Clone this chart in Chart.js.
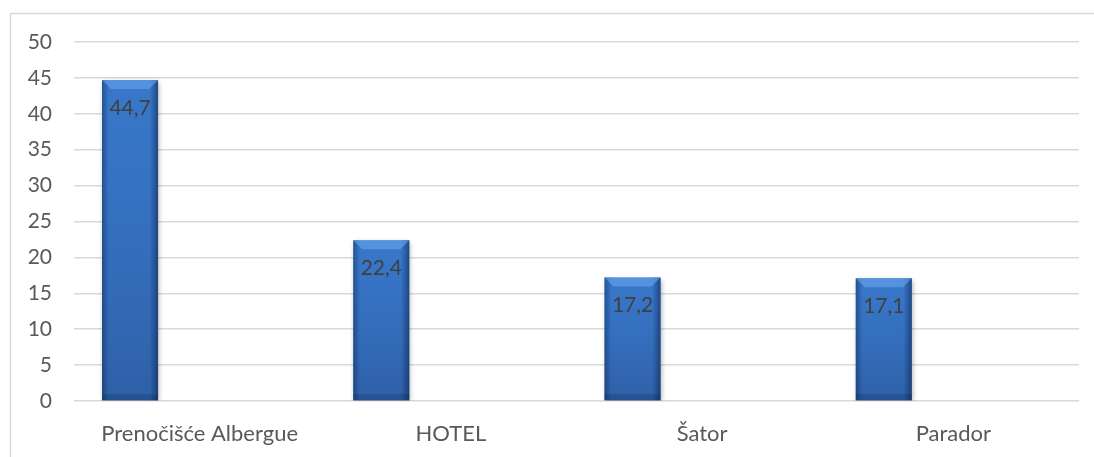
<!DOCTYPE html>
<html>
<head>
<meta charset="utf-8">
<script src="https://cdn.jsdelivr.net/npm/chart.js@4.4.1/dist/chart.umd.min.js"></script>
<style>
  html, body { margin: 0; padding: 0; background: #fff; }
  #wrap { width: 1094px; height: 457px; position: relative; }
</style>
</head>
<body>
<div id="wrap"><canvas id="c"></canvas></div>
<script>
const categories = ['Prenočišće Albergue', 'HOTEL', 'Šator', 'Parador'];
const values = [44.7, 22.4, 17.2, 17.1];
const emptySeries = [null, null, null, null];
const yTicks = { min: 0, max: 50, step: 5 };

const FONT = 'Lato, "Liberation Sans", sans-serif';
const GRID = '#d9d9d9';

// chart frame: top and left edge only, the rest falls outside the picture
const framePlugin = {
  id: 'frame',
  beforeDraw(chart) {
    const ctx = chart.ctx;
    ctx.save();
    ctx.strokeStyle = GRID;
    ctx.lineWidth = 1.5;
    ctx.beginPath();
    ctx.moveTo(10.5, 457);
    ctx.lineTo(10.5, 13.5);
    ctx.lineTo(1094, 13.5);
    ctx.stroke();
    ctx.restore();
  }
};

// soft shadow under the bars
const shadowPlugin = {
  id: 'barShadow',
  beforeDatasetDraw(chart, args) {
    if (args.index !== 0) return;
    const ctx = chart.ctx;
    ctx.save();
    ctx.shadowColor = 'rgba(0,0,0,0.35)';
    ctx.shadowBlur = 5;
    ctx.shadowOffsetX = 1;
    ctx.shadowOffsetY = 2;
  },
  afterDatasetDraw(chart, args) {
    if (args.index !== 0) return;
    chart.ctx.restore();
  }
};

// bevel look + value labels on top of the bars
const bevelPlugin = {
  id: 'bevel',
  afterDatasetsDraw(chart) {
    const ctx = chart.ctx;
    const meta = chart.getDatasetMeta(0);
    meta.data.forEach((bar, i) => {
      const { x, y, base, width } = bar.getProps(['x', 'y', 'base', 'width'], true);
      const l = x - width / 2, r = x + width / 2, h = base - y;
      ctx.save();
      // vertical shading
      let g = ctx.createLinearGradient(0, y, 0, base);
      g.addColorStop(0, 'rgba(40,120,230,0.10)');
      g.addColorStop(1, 'rgba(0,0,40,0.20)');
      ctx.fillStyle = g;
      ctx.fillRect(l, y, width, h);
      // darker side edges
      g = ctx.createLinearGradient(l, 0, r, 0);
      g.addColorStop(0, 'rgba(10,30,70,0.45)');
      g.addColorStop(0.12, 'rgba(10,30,70,0.04)');
      g.addColorStop(0.85, 'rgba(10,30,70,0.04)');
      g.addColorStop(1, 'rgba(10,30,70,0.55)');
      ctx.fillStyle = g;
      ctx.fillRect(l, y, width, h);
      // top bevel
      const bv = 9;
      ctx.fillStyle = 'rgba(110,170,240,0.55)';
      ctx.beginPath();
      ctx.moveTo(l, y);
      ctx.lineTo(r, y);
      ctx.lineTo(r - bv, y + bv);
      ctx.lineTo(l + bv, y + bv);
      ctx.closePath();
      ctx.fill();
      // bottom band
      ctx.fillStyle = 'rgba(10,30,70,0.22)';
      ctx.fillRect(l, base - 6, width, 6);
      // label
      ctx.fillStyle = '#404040';
      ctx.font = '21px ' + FONT;
      ctx.textAlign = 'center';
      ctx.textBaseline = 'middle';
      ctx.fillText(String(values[i]).replace('.', ','), x, y + 28);
      ctx.restore();
    });
  }
};

new Chart(document.getElementById('c'), {
  type: 'bar',
  data: {
    labels: categories,
    datasets: [
      { data: values, backgroundColor: '#3c7bcc', borderWidth: 0 },
      { data: emptySeries },
      { data: emptySeries }
    ]
  },
  options: {
    responsive: true,
    maintainAspectRatio: false,
    animation: false,
    devicePixelRatio: 1,
    categoryPercentage: 0.831,
    barPercentage: 0.805,
    layout: { padding: { top: 42, right: 15, bottom: 0, left: 0 } },
    plugins: { legend: { display: false }, tooltip: { enabled: false } },
    scales: {
      x: {
        grid: { display: false },
        border: { display: false },
        ticks: { color: '#595959', font: { family: FONT, size: 22 }, padding: 12, maxRotation: 0 },
        afterFit(s) { s.height = 56; }
      },
      y: {
        min: yTicks.min,
        max: yTicks.max,
        ticks: { stepSize: yTicks.step, color: '#595959', font: { family: FONT, size: 21 }, padding: 22 },
        grid: { color: GRID, lineWidth: 1.5, drawTicks: false },
        border: { display: false },
        afterFit(s) { s.width = 74; }
      }
    }
  },
  plugins: [framePlugin, shadowPlugin, bevelPlugin]
});
</script>
</body>
</html>
